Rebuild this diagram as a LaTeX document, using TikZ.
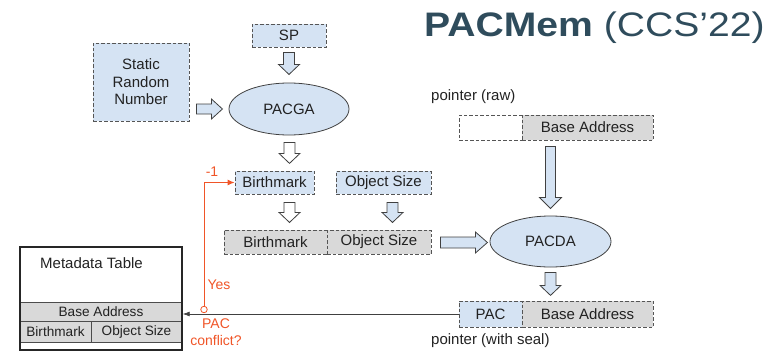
\documentclass[tikz,border=0pt]{standalone}
\usepackage{fontspec}
\setmainfont{Liberation Sans}
\usetikzlibrary{shapes.geometric,arrows.meta,calc}
\definecolor{bluef}{RGB}{213,227,243}
\definecolor{grayf}{RGB}{217,217,217}
\definecolor{dashc}{RGB}{85,85,85}
\definecolor{orng}{RGB}{240,85,40}
\definecolor{titlec}{RGB}{47,76,92}
\definecolor{txt}{RGB}{34,34,34}
\tikzset{
  lbl/.style={font=\fontsize{15}{17.5}\selectfont, text=txt},
  small/.style={font=\fontsize{13.6}{15}\selectfont, text=txt},
  otxt/.style={font=\fontsize{14}{16.5}\selectfont, text=orng},
  dbox/.style={lbl, draw=dashc, dash pattern=on 3.5pt off 2pt, line width=0.9pt, inner sep=0},
  bbox/.style={dbox, fill=bluef},
  gbox/.style={dbox, fill=grayf},
  ebox/.style={dbox, fill=white},
  oval/.style={lbl, ellipse, draw=black!75, fill=bluef, line width=0.8pt, inner sep=0, minimum width=120, minimum height=52},
  trow/.style={small, fill=grayf, draw=black!70, line width=0.6pt, inner sep=0},
  pics/barrow/.style args={#1/#2/#3/#4/#5}{code={
    \draw[draw=black!75, line width=0.8pt, fill=#5, line join=miter]
      (0,-#1) -- ({#3-#4},-#1) -- ({#3-#4},-#2) -- (#3,0) -- ({#3-#4},#2) -- ({#3-#4},#1) -- (0,#1) -- cycle;}}
}
\begin{document}
\begin{tikzpicture}[x=1pt,y=-1pt]
\useasboundingbox (0,0) rectangle (784,353);

% title
\node[anchor=base west, inner sep=0, text=titlec, font=\fontsize{34}{40}\selectfont] (title) at (424,37)
  {\scalebox{1.15}[1]{\textbf{PACMem} (CCS’22)}};

% left generation part
\node[bbox, minimum width=74, minimum height=23] (sp) at (289,35.5) {SP};
\node[bbox, minimum width=96, minimum height=78, align=center] (srn) at (141,82) {Static\\Random\\Number};
\node[oval] (pacga) at (289,109) {PACGA};
\node[bbox, minimum width=79, minimum height=23] (bm1) at (274.5,182.5) {Birthmark};
\node[bbox, minimum width=95, minimum height=23] (os1) at (383.5,182.5) {Object Size};
\node[gbox, minimum width=103, minimum height=24] (bm2) at (275.5,242) {Birthmark};
\node[gbox, minimum width=104, minimum height=24] (os2) at (379,242) {Object Size};

\pic[rotate=-90] at ([yshift=-5pt]sp.south) {barrow={5.5/10.5/22/10/bluef}};
\pic at ($(srn.east |- pacga.center)+(7,0)$) {barrow={5/10/26/11/bluef}};
\pic[rotate=-90] at ($(pacga.south)+(0.5,7)$) {barrow={5.5/10.5/21/10/white}};
\pic[rotate=-90] at ($(bm1.south)+(15,8)$) {barrow={5.5/10.5/20/10/white}};
\pic[rotate=-90] at ($(os1.south)+(9,8)$) {barrow={5.5/10.5/20/10/bluef}};
\pic at ($(os2.east)+(9,0.5)$) {barrow={5.5/10.5/47/12/bluef}};

% right pointer part
\node[anchor=west, lbl, inner sep=0] (rawlbl) at (431,97) {pointer (raw)};
\node[ebox, minimum width=63, minimum height=25] (rempty) at (490.5,127.5) {};
\node[gbox, minimum width=131, minimum height=25] (rbase) at (587.5,127.5) {Base Address};
\node[oval, minimum width=121, minimum height=51] (pacda) at (550.5,241.5) {PACDA};
\node[bbox, minimum width=63, minimum height=26] (pac) at (490.5,314) {PAC};
\node[gbox, minimum width=131, minimum height=26] (sbase) at (587.5,314) {Base Address};
\node[anchor=west, lbl, inner sep=0] (seallbl) at (431,341) {pointer (with seal)};

\pic[rotate=-90] at ($(pacda.north |- rbase.south)+(0,6)$) {barrow={5/11/62/11/bluef}};
\pic[rotate=-90] at ($(pacda.south)+(0,5)$) {barrow={5.5/10.5/23/10/bluef}};

% metadata table
\node[trow, minimum width=162, minimum height=19] (tbase) at (101,311.5) {Base Address};
\node[trow, minimum width=71, minimum height=21] (tbm) at (55.5,331.5) {Birthmark};
\node[trow, minimum width=91, minimum height=21] (tos) at (136.5,331.5) {Object Size};
\node[draw=black!85, line width=1.4pt, minimum width=162, minimum height=103, inner sep=0] (tbl) at (101,298.5) {};
\node[lbl] (ttitle) at (91.5,263) {Metadata Table};

% connector pointer -> table
\draw[draw=black!75, line width=0.7pt, -{Latex[length=7pt,width=5pt]}] (pac.west) -- (pac.west -| tbl.east);

% conflict feedback
\node[circle, draw=orng, fill=white, line width=0.8pt, minimum size=6.5, inner sep=0] (conf) at (204,309.5) {};
\draw[orng, line width=0.9pt, -{Latex[length=7pt,width=6pt]}] (conf.north) |- (bm1.west);
\node[otxt] (minus) at (212,172) {-1};
\node[otxt] (yes) at (219,285) {Yes};
\node[otxt, align=center] (conflbl) at (216,332) {PAC\\conflict?};
\end{tikzpicture}
\end{document}
